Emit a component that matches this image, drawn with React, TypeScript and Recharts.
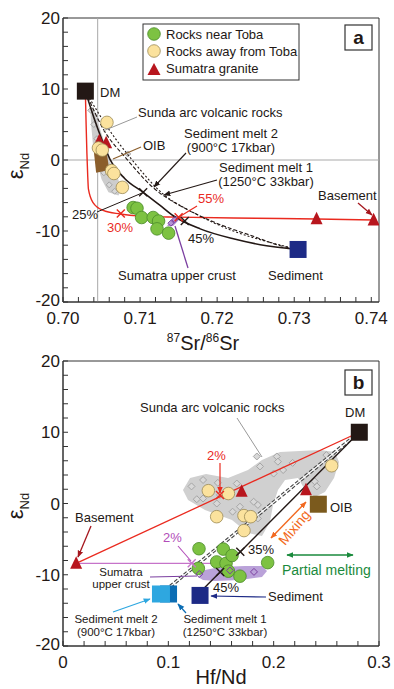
import { ScatterChart, Scatter, XAxis, YAxis, ReferenceLine, ReferenceArea } from 'recharts'

// ---------- panel a : eNd vs 87Sr/86Sr ----------
const dmA = [{ x: 0.7029, y: 9.7 }]
const sedimentA = [{ x: 0.7305, y: -12.6 }]
const nearTobaA = [
  { x: 0.7091, y: -6.7 }, { x: 0.7096, y: -6.8 }, { x: 0.7102, y: -8.1 }, { x: 0.7117, y: -8.1 },
  { x: 0.7124, y: -8.6 }, { x: 0.7122, y: -9.7 }, { x: 0.7137, y: -10.3 },
]
const awayTobaA = [
  { x: 0.7057, y: 5.3 }, { x: 0.7046, y: 1.7 }, { x: 0.7051, y: 1.4 },
  { x: 0.7063, y: -1.5 }, { x: 0.7066, y: -1.9 }, { x: 0.7077, y: -3.85 },
]
const graniteA = [{ x: 0.7047, y: 2.7 }, { x: 0.7056, y: 2.4 }, { x: 0.7329, y: -8.3 }, { x: 0.7403, y: -8.45 }]
const sundaFieldA = [
  { x: 0.7035, y: 7.65 }, { x: 0.7037, y: 4.4 }, { x: 0.7039, y: 2.0 }, { x: 0.7044, y: -0.3 },
  { x: 0.705, y: -2.7 }, { x: 0.7059, y: -4.55 }, { x: 0.7072, y: -5.0 }, { x: 0.7076, y: -4.1 },
  { x: 0.707, y: -2.2 }, { x: 0.7061, y: -0.3 }, { x: 0.7055, y: 2.0 }, { x: 0.7048, y: 4.4 },
  { x: 0.7042, y: 6.7 },
]
const sundaRocksA = [
  { x: 0.7036, y: 7.0 }, { x: 0.704, y: 5.0 }, { x: 0.7044, y: 3.0 }, { x: 0.7048, y: 0.5 },
  { x: 0.7053, y: -1.8 }, { x: 0.706, y: -3.5 }, { x: 0.7067, y: -4.4 }, { x: 0.7084, y: 0.85 },
]
const oibFieldA = [{ x: 0.704, y: 1.2 }, { x: 0.7056, y: 1.6 }, { x: 0.706, y: -1.4 }, { x: 0.7043, y: -1.8 }]
const upperCrustFieldA = [
  { x: 0.7135, y: -9.3 }, { x: 0.714, y: -8.4 }, { x: 0.7148, y: -7.9 }, { x: 0.715, y: -8.5 }, { x: 0.7143, y: -9.3 },
]
const upperCrustA = [{ x: 0.714, y: -8.9 }, { x: 0.7145, y: -8.4 }]
const basementMixA = [
  { x: 0.7029, y: 9.7 }, { x: 0.703, y: 5.0 }, { x: 0.7031, y: 1.0 }, { x: 0.7032, y: -2.0 },
  { x: 0.7033, y: -4.1 }, { x: 0.7039, y: -6.0 }, { x: 0.7052, y: -7.1 }, { x: 0.7074, y: -7.6 },
  { x: 0.71, y: -7.9 }, { x: 0.715, y: -8.05 }, { x: 0.725, y: -8.2 }, { x: 0.7329, y: -8.3 }, { x: 0.7403, y: -8.45 },
]
const sedimentMixA = [
  { x: 0.7029, y: 9.7 }, { x: 0.704, y: 6.0 }, { x: 0.705, y: 3.0 }, { x: 0.7061, y: 0.1 },
  { x: 0.708, y: -2.6 }, { x: 0.7104, y: -4.55 }, { x: 0.7126, y: -6.4 }, { x: 0.7143, y: -7.85 },
  { x: 0.7178, y: -9.7 }, { x: 0.7221, y: -11.1 }, { x: 0.7264, y: -12.07 }, { x: 0.729, y: -12.44 }, { x: 0.7305, y: -12.6 },
]
const melt2MixA = [
  { x: 0.7029, y: 9.7 }, { x: 0.7052, y: 4.4 }, { x: 0.7083, y: 0.1 }, { x: 0.7117, y: -3.9 },
  { x: 0.716, y: -6.9 }, { x: 0.7195, y: -8.7 }, { x: 0.7247, y: -10.75 }, { x: 0.7282, y: -12.07 }, { x: 0.7305, y: -12.6 },
]
const melt1MixA = [
  { x: 0.7029, y: 9.7 }, { x: 0.7059, y: 4.4 }, { x: 0.7089, y: 0.1 }, { x: 0.713, y: -4.8 },
  { x: 0.7169, y: -7.4 }, { x: 0.7221, y: -10.0 }, { x: 0.7272, y: -11.7 }, { x: 0.7305, y: -12.6 },
]
const sedimentStepsA = [{ x: 0.7104, y: -4.55 }, { x: 0.7158, y: -8.6 }]
const basementStepsA = [{ x: 0.7075, y: -7.55 }, { x: 0.715, y: -8.05 }]

// ---------- panel b : eNd vs Hf/Nd ----------
const dmB = [{ x: 0.2813, y: 10.0 }]
const oibB = [{ x: 0.2424, y: -0.1 }]
const sedimentB = [{ x: 0.1301, y: -12.9 }]
const melt1B = [{ x: 0.1002, y: -12.7 }]
const melt2B = [{ x: 0.093, y: -12.7 }]
const graniteB = [{ x: 0.0125, y: -8.4 }, { x: 0.1696, y: 1.7 }, { x: 0.2307, y: 1.9 }]
const awayTobaB = [
  { x: 0.138, y: 1.8 }, { x: 0.157, y: 1.4 }, { x: 0.1459, y: -1.85 }, { x: 0.1718, y: -1.7 },
  { x: 0.1782, y: -1.85 }, { x: 0.1718, y: -3.8 }, { x: 0.2551, y: 5.3 },
]
const nearTobaB = [
  { x: 0.1291, y: -6.35 }, { x: 0.1522, y: -6.4 }, { x: 0.1285, y: -9.1 }, { x: 0.1459, y: -8.2 },
  { x: 0.1548, y: -8.4 }, { x: 0.1605, y: -7.3 }, { x: 0.157, y: -9.5 }, { x: 0.168, y: -10.2 }, { x: 0.1943, y: -8.3 },
]
const sundaFieldB = [
  { x: 0.1139, y: 1.9 }, { x: 0.1206, y: 3.58 }, { x: 0.1358, y: 4.14 }, { x: 0.1567, y: 3.58 },
  { x: 0.1756, y: 4.7 }, { x: 0.1889, y: 6.1 }, { x: 0.206, y: 7.23 }, { x: 0.225, y: 7.37 },
  { x: 0.244, y: 7.51 }, { x: 0.2582, y: 7.23 }, { x: 0.262, y: 5.83 }, { x: 0.2573, y: 3.58 },
  { x: 0.2487, y: 1.62 }, { x: 0.2392, y: 0.91 }, { x: 0.2298, y: 1.9 }, { x: 0.2231, y: 3.58 },
  { x: 0.2108, y: 3.3 }, { x: 0.2041, y: 1.9 }, { x: 0.1994, y: -0.2 }, { x: 0.1965, y: -2.6 },
  { x: 0.1889, y: -4.56 }, { x: 0.1756, y: -4.14 }, { x: 0.1604, y: -2.3 }, { x: 0.1348, y: -0.9 },
  { x: 0.1187, y: 0.5 },
]
const sundaRocksB = [
  { x: 0.122, y: 2.4 }, { x: 0.133, y: 3.3 }, { x: 0.147, y: 2.9 }, { x: 0.127, y: 0.6 },
  { x: 0.146, y: 0.0 }, { x: 0.165, y: 2.8 }, { x: 0.187, y: 5.2 }, { x: 0.203, y: 6.6 },
  { x: 0.2, y: 4.2 }, { x: 0.209, y: 4.7 }, { x: 0.218, y: 5.7 }, { x: 0.25, y: 6.8 },
  { x: 0.239, y: 3.1 }, { x: 0.241, y: 2.4 }, { x: 0.185, y: -0.2 }, { x: 0.184, y: 6.6 },
  { x: 0.133, y: 0.7 }, { x: 0.149, y: 1.2 }, { x: 0.168, y: -0.45 }, { x: 0.161, y: -1.15 },
  { x: 0.185, y: -2.1 }, { x: 0.181, y: 0.25 }, { x: 0.204, y: 5.87 },
]
const upperCrustFieldB = [
  { x: 0.1282, y: -10.32 }, { x: 0.1348, y: -9.34 }, { x: 0.1491, y: -8.92 }, { x: 0.1728, y: -8.78 },
  { x: 0.1889, y: -8.78 }, { x: 0.1937, y: -9.48 }, { x: 0.1889, y: -10.32 }, { x: 0.168, y: -10.74 },
  { x: 0.1443, y: -10.88 }, { x: 0.1329, y: -10.74 },
]
const upperCrustB = [{ x: 0.1294, y: -9.9 }, { x: 0.1585, y: -9.4 }, { x: 0.1813, y: -9.6 }]
const basementMixB = [{ x: 0.0125, y: -8.4 }, { x: 0.2813, y: 10.0 }]
const upperCrustMixB = [{ x: 0.0125, y: -8.4 }, { x: 0.1424, y: -8.4 }]
const sedimentMixB = [{ x: 0.127, y: -12.9 }, { x: 0.2813, y: 10.0 }]
const meltMixB = [{ x: 0.093, y: -12.7 }, { x: 0.2813, y: 10.0 }]
const sedimentStepsB = [{ x: 0.1683, y: -6.77 }, { x: 0.1492, y: -9.6 }]
const basementStepB = [{ x: 0.149, y: 1.2 }]
const upperCrustStepB = [{ x: 0.1222, y: -8.4 }]

// ---------- ticks ----------
const epsTicks = [-20, -18, -16, -14, -12, -10, -8, -6, -4, -2, 0, 2, 4, 6, 8, 10, 12, 14, 16, 18, 20]
const srTicks = [
  0.7, 0.702, 0.704, 0.706, 0.708, 0.71, 0.712, 0.714, 0.716, 0.718, 0.72,
  0.722, 0.724, 0.726, 0.728, 0.73, 0.732, 0.734, 0.736, 0.738, 0.74,
]
const hfNdTicks = [0, 0.02, 0.04, 0.06, 0.08, 0.1, 0.12, 0.14, 0.16, 0.18, 0.2, 0.22, 0.24, 0.26, 0.28, 0.3]

const INK = '#231815'
const AXIS = '#333'
const FONT = '"Liberation Sans", Arial, sans-serif'
const GREEN = '#7dc242'
const YELLOW = '#fbe29d'
const RED = '#b8161e'
const LINE_RED = '#ea2a1f'
const PURPLE = '#7b3fa0'

// ---------- shapes ----------
const none = () => <g />
const circle = (fill: string, stroke: string) => (p: any) => (
  <circle cx={p.cx} cy={p.cy} r={6.3} fill={fill} stroke={stroke} strokeWidth={0.8} />
)
const square = (fill: string, w: number, h: number = w) => (p: any) => (
  <rect x={p.cx - w / 2} y={p.cy - h / 2} width={w} height={h} fill={fill} />
)
const triangle = (fill: string, s: number) => (p: any) => (
  <path d={`M${p.cx},${p.cy - s * 0.6}L${p.cx + s / 2},${p.cy + s * 0.45}L${p.cx - s / 2},${p.cy + s * 0.45}Z`} fill={fill} />
)
const diamond = (stroke: string, fill: string, s: number) => (p: any) => (
  <path d={`M${p.cx},${p.cy - s}L${p.cx + s},${p.cy}L${p.cx},${p.cy + s}L${p.cx - s},${p.cy}Z`} fill={fill} stroke={stroke} strokeWidth={1} />
)
const cross = (stroke: string) => (p: any) => (
  <path d={`M${p.cx - 4},${p.cy - 4}L${p.cx + 4},${p.cy + 4}M${p.cx + 4},${p.cy - 4}L${p.cx - 4},${p.cy + 4}`} stroke={stroke} strokeWidth={1.4} />
)
const field = (fill: string, opacity = 1) => (p: any) => (
  <path
    d={p.points.map((pt: any, i: number) => `${i ? 'L' : 'M'}${pt.x},${pt.y}`).join('') + 'Z'}
    fill={fill}
    fillOpacity={opacity}
    stroke="none"
  />
)

// ---------- ticks ----------
function EpsTick(props: any) {
  const { x, y, payload } = props
  const v = payload.value
  return (
    <g>
      <line x1={x} x2={x + 5} y1={y} y2={y} stroke={AXIS} />
      {v % 10 === 0 && (
        <text x={x - 3} y={y} dy={v === -20 ? 4 : 6} textAnchor="end" fontSize={17} fill={INK} fontFamily={FONT}>
          {v}
        </text>
      )}
    </g>
  )
}

function SrTick(props: any) {
  const { x, y, payload } = props
  const v = payload.value
  const major = Math.abs(v * 100 - Math.round(v * 100)) < 1e-6
  return (
    <g>
      <line x1={x} x2={x} y1={y} y2={y - 5} stroke={AXIS} />
      {major && (
        <text x={x} y={y + 22} textAnchor="middle" fontSize={17} fill={INK} fontFamily={FONT}>
          {v.toFixed(2)}
        </text>
      )}
    </g>
  )
}

function HfNdTick(props: any) {
  const { x, y, payload } = props
  const v = payload.value
  const major = Math.abs(v * 10 - Math.round(v * 10)) < 1e-6
  return (
    <g>
      <line x1={x} x2={x} y1={y} y2={y - 5} stroke={AXIS} />
      {major && (
        <text x={x} y={y + 22} textAnchor="middle" fontSize={17} fill={INK} fontFamily={FONT}>
          {v === 0 ? '0' : v.toFixed(1)}
        </text>
      )}
    </g>
  )
}

function PanelA() {
  return (
    <ScatterChart width={394} height={340} margin={{ top: 18, right: 15, bottom: 0, left: 0 }}>
      <XAxis
        type="number"
        dataKey="x"
        domain={[0.7, 0.741]}
        ticks={srTicks}
        interval={0}
        allowDataOverflow
        height={38}
        tickSize={0}
        tickMargin={0}
        tickLine={false}
        axisLine={{ stroke: AXIS }}
        tick={(p: any) => <SrTick {...p} />}
      />
      <YAxis
        type="number"
        dataKey="y"
        domain={[-20, 20]}
        ticks={epsTicks}
        interval={0}
        allowDataOverflow
        width={63}
        tickSize={0}
        tickMargin={0}
        tickLine={false}
        axisLine={{ stroke: AXIS }}
        tick={(p: any) => <EpsTick {...p} />}
      />
      <ReferenceLine x={0.7045} stroke="#a9a9a9" />
      <ReferenceLine y={0} stroke="#a9a9a9" />
      <Scatter data={sundaFieldA} shape={none} line={field('#cdcdcd')} lineType="joint" isAnimationActive={false} />
      <Scatter data={sundaRocksA} shape={diamond('#a5a5a5', '#d8d8d8', 3)} isAnimationActive={false} />
      <Scatter data={oibFieldA} shape={none} line={field('#8b5e2b')} lineType="joint" isAnimationActive={false} />
      <Scatter data={basementMixA} shape={none} line={{ stroke: LINE_RED, strokeWidth: 1.4 }} lineType="joint" lineJointType="monotoneX" isAnimationActive={false} />
      <Scatter data={melt2MixA} shape={none} line={{ stroke: INK, strokeWidth: 1.1, strokeDasharray: '4 2' }} lineType="joint" lineJointType="monotoneX" isAnimationActive={false} />
      <Scatter data={melt1MixA} shape={none} line={{ stroke: INK, strokeWidth: 1.1, strokeDasharray: '2 2' }} lineType="joint" lineJointType="monotoneX" isAnimationActive={false} />
      <Scatter data={sedimentMixA} shape={none} line={{ stroke: INK, strokeWidth: 1.6 }} lineType="joint" lineJointType="monotoneX" isAnimationActive={false} />
      <Scatter data={graniteA} shape={triangle(RED, 12)} isAnimationActive={false} />
      <Scatter data={awayTobaA} shape={circle(YELLOW, '#9c8a55')} isAnimationActive={false} />
      <Scatter data={nearTobaA} shape={circle(GREEN, '#4a8a2a')} isAnimationActive={false} />
      <Scatter data={upperCrustFieldA} shape={none} line={field('#a77fcf', 0.85)} lineType="joint" isAnimationActive={false} />
      <Scatter data={upperCrustA} shape={diamond(PURPLE, 'none', 3)} isAnimationActive={false} />
      <Scatter data={sedimentStepsA} shape={cross(INK)} isAnimationActive={false} />
      <Scatter data={basementStepsA} shape={cross(LINE_RED)} isAnimationActive={false} />
      <Scatter data={dmA} shape={square(INK, 17)} isAnimationActive={false} />
      <Scatter data={sedimentA} shape={square('#1d2a86', 17)} isAnimationActive={false} />
      <ReferenceArea x1={0.7} x2={0.741} y1={-20} y2={20} fill="none" stroke={AXIS} ifOverflow="visible" />
    </ScatterChart>
  )
}

function PanelB() {
  return (
    <ScatterChart width={394} height={349} margin={{ top: 21, right: 15, bottom: 0, left: 0 }}>
      <XAxis
        type="number"
        dataKey="x"
        domain={[0, 0.3]}
        ticks={hfNdTicks}
        interval={0}
        allowDataOverflow
        height={43}
        tickSize={0}
        tickMargin={0}
        tickLine={false}
        axisLine={{ stroke: AXIS }}
        tick={(p: any) => <HfNdTick {...p} />}
      />
      <YAxis
        type="number"
        dataKey="y"
        domain={[-20, 20]}
        ticks={epsTicks}
        interval={0}
        allowDataOverflow
        width={63}
        tickSize={0}
        tickMargin={0}
        tickLine={false}
        axisLine={{ stroke: AXIS }}
        tick={(p: any) => <EpsTick {...p} />}
      />
      <Scatter data={sundaFieldB} shape={none} line={field('#d0d0d0')} lineType="joint" isAnimationActive={false} />
      <Scatter data={sundaRocksB} shape={diamond('#a5a5a5', '#d8d8d8', 3.5)} isAnimationActive={false} />
      <Scatter data={upperCrustFieldB} shape={none} line={field('#a98bd0', 0.8)} lineType="joint" isAnimationActive={false} />
      <Scatter data={basementMixB} shape={none} line={{ stroke: LINE_RED, strokeWidth: 1.3 }} lineType="joint" isAnimationActive={false} />
      <Scatter data={upperCrustMixB} shape={none} line={{ stroke: '#c673c9', strokeWidth: 1.3 }} lineType="joint" isAnimationActive={false} />
      <Scatter data={meltMixB} shape={none} line={{ stroke: '#444', strokeWidth: 3.4, strokeDasharray: '4 2' }} lineType="joint" isAnimationActive={false} />
      <Scatter data={meltMixB} shape={none} line={{ stroke: '#fff', strokeWidth: 1.2 }} lineType="joint" isAnimationActive={false} />
      <Scatter data={sedimentMixB} shape={none} line={{ stroke: INK, strokeWidth: 1.4 }} lineType="joint" isAnimationActive={false} />
      <Scatter data={graniteB} shape={triangle(RED, 12)} isAnimationActive={false} />
      <Scatter data={awayTobaB} shape={circle(YELLOW, '#9c8a55')} isAnimationActive={false} />
      <Scatter data={nearTobaB} shape={circle(GREEN, '#4a8a2a')} isAnimationActive={false} />
      <Scatter data={upperCrustB} shape={diamond(PURPLE, 'none', 3.5)} isAnimationActive={false} />
      <Scatter data={sedimentStepsB} shape={cross(INK)} isAnimationActive={false} />
      <Scatter data={basementStepB} shape={cross(LINE_RED)} isAnimationActive={false} />
      <Scatter data={upperCrustStepB} shape={cross('#c673c9')} isAnimationActive={false} />
      <Scatter data={dmB} shape={square(INK, 17)} isAnimationActive={false} />
      <Scatter data={oibB} shape={square('#7b5a1d', 17)} isAnimationActive={false} />
      <Scatter data={sedimentB} shape={square('#1d2a86', 17)} isAnimationActive={false} />
      <Scatter data={melt1B} shape={square('#0b6db4', 17)} isAnimationActive={false} />
      <Scatter data={melt2B} shape={square('#2ea7e0', 18, 17)} isAnimationActive={false} />
      <ReferenceArea x1={0} x2={0.3} y1={-20} y2={20} fill="none" stroke={AXIS} ifOverflow="visible" />
    </ScatterChart>
  )
}

const arrowColors: Record<string, string> = {
  ink: INK,
  red: LINE_RED,
  dred: '#a5161d',
  navy: '#1d2a86',
  sky: '#2ea7e0',
  blue: '#0b6db4',
  orange: '#f26a21',
  green: '#1a8a3c',
}

function Annotations() {
  const t = { fontFamily: FONT, fontSize: 13, fill: INK }
  const s = { fontFamily: FONT, fontSize: 11.5, fill: INK }
  return (
    <svg width={394} height={689} style={{ position: 'absolute', left: 0, top: 0, pointerEvents: 'none' }}>
      <defs>
        {Object.entries(arrowColors).map(([k, c]) => (
          <marker key={k} id={`ah-${k}`} viewBox="0 0 10 10" refX={9} refY={5} markerWidth={7} markerHeight={7}
            markerUnits="userSpaceOnUse" orient="auto-start-reverse">
            <path d="M0,1L10,5L0,9Z" fill={c} />
          </marker>
        ))}
      </defs>

      {/* ---- panel a ---- */}
      <rect x={143} y={24} width={156} height={56} fill="#fff" stroke={AXIS} />
      <circle cx={154} cy={34} r={6.3} fill={GREEN} stroke="#4a8a2a" strokeWidth={0.8} />
      <circle cx={154} cy={51} r={6.3} fill={YELLOW} stroke="#9c8a55" strokeWidth={0.8} />
      <path d="M154,63L160.5,75L147.5,75Z" fill={RED} />
      <text x={166} y={39} {...t}>Rocks near Toba</text>
      <text x={166} y={56} {...t}>Rocks away from Toba</text>
      <text x={166} y={73} {...t}>Sumatra granite</text>
      <rect x={345} y={25} width={27} height={25} fill="#fff" stroke={AXIS} strokeWidth={1.2} />
      <text x={358.5} y={44} textAnchor="middle" fontFamily={FONT} fontSize={19} fontWeight="bold" fill={INK}>a</text>

      <text x={100} y={97} {...t}>DM</text>
      <line x1={137} y1={117} x2={103} y2={131} stroke="#999" />
      <text x={138} y={117} {...t}>Sunda arc volcanic rocks</text>
      <line x1={141} y1={147} x2={113} y2={159} stroke="#8b5e2b" strokeWidth={1.2} />
      <text x={143} y={150} {...t}>OIB</text>
      <text x={231} y={138} textAnchor="middle" {...t}>Sediment melt 2</text>
      <text x={231} y={152} textAnchor="middle" {...t}>(900°C 17kbar)</text>
      <line x1={186} y1={153} x2={154} y2={187} stroke={INK} strokeWidth={1.1} markerEnd="url(#ah-ink)" />
      <text x={266} y={172} textAnchor="middle" {...t}>Sediment melt 1</text>
      <text x={266} y={186} textAnchor="middle" {...t}>(1250°C 33kbar)</text>
      <line x1={217} y1={180} x2={164} y2={195} stroke={INK} strokeWidth={1.1} markerEnd="url(#ah-ink)" />
      <line x1={97} y1={212} x2={142} y2={193} stroke={INK} strokeWidth={1} />
      <text x={72} y={219} {...t}>25%</text>
      <text x={107} y={232} {...t} fill={LINE_RED}>30%</text>
      <line x1={197} y1={206} x2={179} y2={217} stroke={LINE_RED} strokeWidth={1.2} />
      <text x={198} y={203} {...t} fill={LINE_RED}>55%</text>
      <text x={188} y={243} {...t}>45%</text>
      <text x={318} y={200} {...t}>Basement</text>
      <line x1={358} y1={203} x2={372} y2={215} stroke="#a5161d" strokeWidth={1.3} markerEnd="url(#ah-dred)" />
      <line x1={188} y1={268} x2={175} y2={226} stroke={PURPLE} strokeWidth={1.3} />
      <text x={118} y={280} {...t}>Sumatra upper crust</text>
      <text x={268} y={280} {...t}>Sediment</text>

      <text x={203} y={350} textAnchor="middle" fontFamily={FONT} fill={INK}>
        <tspan fontSize={12} dy={-8}>87</tspan>
        <tspan fontSize={20} dy={8}>Sr/</tspan>
        <tspan fontSize={12} dy={-8}>86</tspan>
        <tspan fontSize={20} dy={8}>Sr</tspan>
      </text>
      <text x={23} y={166} transform="rotate(-90 23 166)" textAnchor="middle" fontFamily={FONT} fill={INK}>
        <tspan fontSize={22}>ε</tspan>
        <tspan fontSize={13} dy={6}>Nd</tspan>
      </text>

      {/* ---- panel b ---- */}
      <rect x={345} y={370} width={27} height={25} fill="#fff" stroke={AXIS} strokeWidth={1.2} />
      <text x={358.5} y={389} textAnchor="middle" fontFamily={FONT} fontSize={19} fontWeight="bold" fill={INK}>b</text>
      <text x={345} y={417} {...t}>DM</text>
      <text x={140} y={412} {...t}>Sunda arc volcanic rocks</text>
      <line x1={237} y1={418} x2={262} y2={457} stroke="#999" />
      <text x={207} y={460} {...t} fill={LINE_RED}>2%</text>
      <line x1={220} y1={463} x2={220} y2={493} stroke={LINE_RED} strokeWidth={1.2} markerEnd="url(#ah-red)" />
      <text x={330} y={512} {...t}>OIB</text>
      <text x={75} y={522} {...t}>Basement</text>
      <line x1={91} y1={526} x2={78} y2={557} stroke="#a5161d" strokeWidth={1.3} markerEnd="url(#ah-dred)" />
      <text x={163} y={542} {...t} fill="#b24db9">2%</text>
      <line x1={178} y1={546} x2={191} y2={561} stroke="#b24db9" strokeWidth={1.1} />
      <text x={248} y={554} {...t}>35%</text>
      <text x={213} y={592} {...t}>45%</text>
      <text x={121} y={576} textAnchor="middle" {...s}>Sumatra</text>
      <text x={121} y={588} textAnchor="middle" {...s}>upper crust</text>
      <line x1={150} y1={577} x2={197} y2={576} stroke={PURPLE} strokeWidth={1.2} />
      <text x={268} y={601} {...t}>Sediment</text>
      <line x1={266} y1={597} x2={211} y2={596} stroke="#1d2a86" strokeWidth={1.2} markerEnd="url(#ah-navy)" />
      <text x={116} y={623} textAnchor="middle" {...s}>Sediment melt 2</text>
      <text x={116} y={636} textAnchor="middle" {...s}>(900°C 17kbar)</text>
      <line x1={113} y1={612} x2={150} y2={599} stroke="#2ea7e0" strokeWidth={1.2} markerEnd="url(#ah-sky)" />
      <text x={225} y={623} textAnchor="middle" {...s}>Sediment melt 1</text>
      <text x={225} y={636} textAnchor="middle" {...s}>(1250°C 33kbar)</text>
      <line x1={186} y1={613} x2={178} y2={604} stroke="#0b6db4" strokeWidth={1.2} markerEnd="url(#ah-blue)" />
      <line x1={271} y1={538} x2={306} y2={502} stroke="#f26a21" strokeWidth={1.4}
        markerStart="url(#ah-orange)" markerEnd="url(#ah-orange)" />
      <text x={295} y={532} transform="rotate(-50 295 528)" textAnchor="middle" fontFamily={FONT} fontSize={14} fill="#f26a21">Mixing</text>
      <line x1={287} y1={555} x2={353} y2={555} stroke="#1a8a3c" strokeWidth={1.4}
        markerStart="url(#ah-green)" markerEnd="url(#ah-green)" />
      <text x={282} y={575} fontFamily={FONT} fontSize={14} fill="#1a8a3c">Partial melting</text>

      <text x={221} y={684} textAnchor="middle" fontFamily={FONT} fontSize={20} fill={INK}>Hf/Nd</text>
      <text x={23} y={506} transform="rotate(-90 23 506)" textAnchor="middle" fontFamily={FONT} fill={INK}>
        <tspan fontSize={22}>ε</tspan>
        <tspan fontSize={13} dy={6}>Nd</tspan>
      </text>
    </svg>
  )
}

export default function App() {
  return (
    <div style={{ position: 'absolute', left: 0, top: 0, width: 394, height: 689, background: '#fff', fontFamily: FONT }}>
      <div style={{ position: 'absolute', left: 0, top: 0 }}>
        <PanelA />
      </div>
      <div style={{ position: 'absolute', left: 0, top: 340 }}>
        <PanelB />
      </div>
      <Annotations />
    </div>
  )
}
